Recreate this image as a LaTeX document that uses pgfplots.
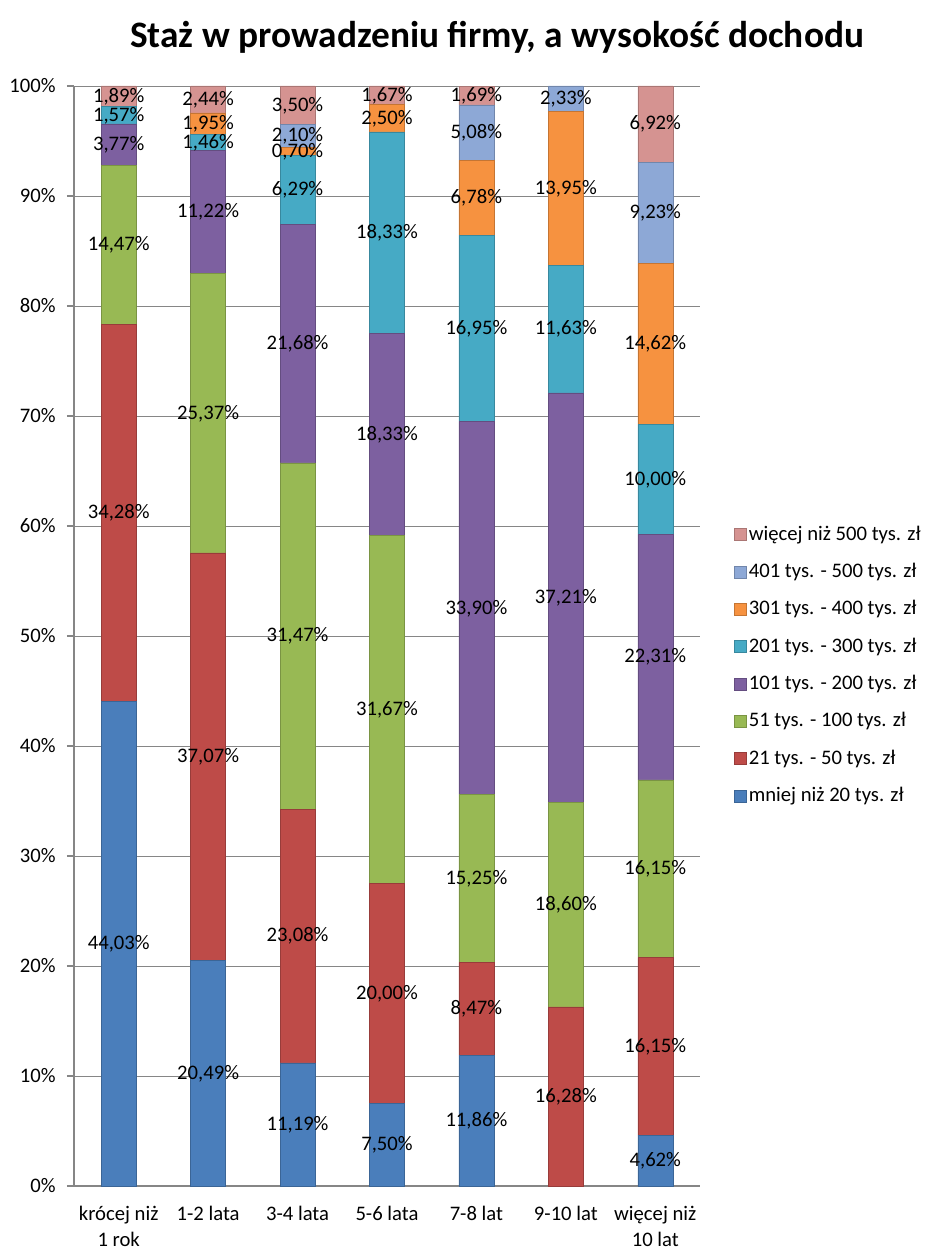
\documentclass[border=0pt]{standalone}
\usepackage{pgfplots}
\pgfplotsset{compat=1.18}
\usepackage{pgfplotstable}
\usepackage{fontspec}
\setmainfont{Carlito}
\definecolor{cA}{HTML}{4A7EBB}
\definecolor{cB}{HTML}{BE4B48}
\definecolor{cC}{HTML}{98B954}
\definecolor{cD}{HTML}{7D60A0}
\definecolor{cE}{HTML}{46AAC5}
\definecolor{cF}{HTML}{F69240}
\definecolor{cG}{HTML}{8DA8D6}
\definecolor{cH}{HTML}{D59391}
\definecolor{axisgray}{HTML}{868686}

\pgfplotstableread{
x s1 s2 s3 s4 s5 s6 s7 s8
0 44.03 34.28 14.47 3.77 1.57 0 0 1.89
1 20.49 37.07 25.37 11.22 1.46 1.95 0 2.44
2 11.19 23.08 31.47 21.68 6.29 0.70 2.10 3.50
3 7.50 20.00 31.67 18.33 18.33 2.50 0 1.67
4 11.86 8.47 15.25 33.90 16.95 6.78 5.08 1.69
5 0 16.28 18.60 37.21 11.63 13.95 2.33 0
6 4.62 16.15 16.15 22.31 10.00 14.62 9.23 6.92
}\data

\newcommand\tofixed[2]{\pgfmathfloatparsenumber{#1}\pgfmathfloattofixed{\pgfmathresult}\global\let#2\pgfmathresult}
\newcommand\seglabel{\tofixed{\rawy}\rawfix\ifdim\rawfix pt>0.001pt\relax\pgfmathprintnumber[fixed,fixed zerofill,precision=2,use comma]{\rawfix}\%\fi}

\pgfplotsset{
  /pgf/number format/assume math mode=true,
  sbar/.style={fill=#1, draw=#1!80!black, line width=0.4pt},
  lbl/.style={draw=none, fill=none, visualization depends on={\thisrow{#1}\as\rawy}},
  common/.style={
    at={(0,0)}, anchor=south west,
    scale only axis, width=469.5pt, height=825pt,
    ybar stacked, bar width=26.25pt,
    xmin=-0.5, xmax=6.5, ymin=0,
  },
}

\begin{document}
\begin{tikzpicture}
\path[use as bounding box] (-55.5pt,-54.75pt) rectangle (642pt,889.5pt);
\begin{axis}[
  common, ymax=100,
  xtick=data,
  xticklabels={{krócej niż\\1 rok},1-2 lata,3-4 lata,5-6 lata,7-8 lat,9-10 lat,{więcej niż\\10 lat}},
  xticklabel style={align=center, font=\fontsize{15.5}{19.5}\selectfont, anchor=north, yshift=-6pt},
  ytick={0,10,...,100},
  yticklabel={\pgfmathprintnumber{\tick}\%},
  yticklabel style={font=\fontsize{15.5}{18}\selectfont, xshift=-5pt},
  axis x line*=bottom, axis y line*=left,
  axis line style={draw=axisgray, line width=0.8pt, -},
  ymajorgrids, grid style={draw=axisgray, line width=0.6pt},
  x tick style={draw=none},
  y tick style={draw=axisgray, line width=0.8pt},
  tick align=outside, major tick length=5.25pt,
  title={Staż w prowadzeniu firmy, a wysokość dochodu},
  title style={at={(rel axis cs:0.676,1.037)}, anchor=center, font=\fontsize{28}{32}\selectfont\bfseries},
  reverse legend,
  legend image code/.code={\path[#1] (0pt,-4.5pt) rectangle (9pt,4.5pt);},
  legend style={at={(rel axis cs:1.048,0.605)}, anchor=north west, draw=none, fill=none,
    font=\fontsize{15.5}{18}\selectfont, row sep=11pt,
    nodes={inner sep=1.5pt, text height=11pt, text depth=3pt}},
  legend cell align=left,
]
\addplot[sbar=cA] table[x=x,y=s1]{\data};
\addplot[sbar=cB] table[x=x,y=s2]{\data};
\addplot[sbar=cC] table[x=x,y=s3]{\data};
\addplot[sbar=cD] table[x=x,y=s4]{\data};
\addplot[sbar=cE] table[x=x,y=s5]{\data};
\addplot[sbar=cF] table[x=x,y=s6]{\data};
\addplot[sbar=cG] table[x=x,y=s7]{\data};
\addplot[sbar=cH] table[x=x,y=s8]{\data};
\legend{mniej niż 20 tys. zł, 21 tys. - 50 tys. zł, 51 tys. - 100 tys. zł, 101 tys. - 200 tys. zł, 201 tys. - 300 tys. zł, 301 tys. - 400 tys. zł, 401 tys. - 500 tys. zł, więcej niż 500 tys. zł}
\end{axis}
\begin{axis}[
  common, ymax=100.02, hide axis, clip=false,
  nodes near coords={\seglabel},
  every node near coord/.append style={anchor=center, font=\fontsize{15.5}{18}\selectfont, text=black},
]
\addplot[lbl=s1] table[x=x,y=s1]{\data};
\addplot[lbl=s2] table[x=x,y=s2]{\data};
\addplot[lbl=s3] table[x=x,y=s3]{\data};
\addplot[lbl=s4] table[x=x,y=s4]{\data};
\addplot[lbl=s5] table[x=x,y=s5]{\data};
\addplot[lbl=s6] table[x=x,y=s6]{\data};
\addplot[lbl=s7] table[x=x,y=s7]{\data};
\addplot[lbl=s8] table[x=x,y=s8]{\data};
\end{axis}
\end{tikzpicture}
\end{document}
